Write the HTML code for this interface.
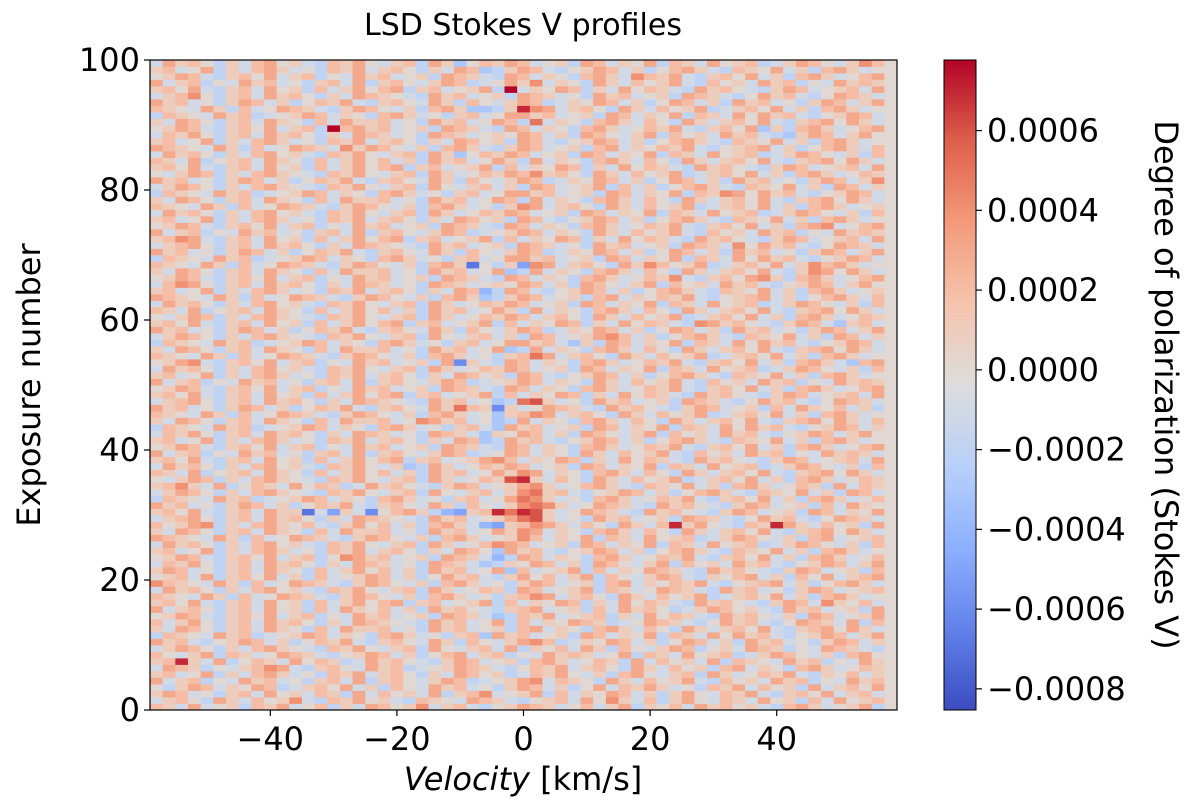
<!DOCTYPE html>
<html><head><meta charset="utf-8">
<style>
html,body{margin:0;padding:0;background:#fff;}
svg{display:block;font-family:"DejaVu Sans","Liberation Sans",sans-serif;}
</style></head>
<body>
<svg id="chart" width="1200" height="802" viewBox="0 0 1200 802" xmlns="http://www.w3.org/2000/svg">
  <text x="523" y="35" font-size="30" text-anchor="middle">LSD Stokes V profiles</text>
  <g id="cells"></g>
  <rect x="150" y="60" width="747" height="650" fill="none" stroke="#000" stroke-width="1.2"/>
  <g id="xticks"></g>
  <g id="yticks"></g>
  <text x="523" y="790" font-size="32" text-anchor="middle"><tspan font-style="italic">Velocity</tspan> [km/s]</text>
  <text transform="translate(40,385) rotate(-90)" font-size="32" text-anchor="middle">Exposure number</text>
  <defs><linearGradient id="cbg" x1="0" y1="1" x2="0" y2="0"></linearGradient></defs>
  <rect x="944" y="60" width="32" height="650" fill="url(#cbg)" stroke="#000" stroke-width="1"/>
  <g id="cbticks"></g>
  <text transform="translate(1155,385) rotate(90)" font-size="32" text-anchor="middle">Degree of polarization (Stokes V)</text>
</svg>
<script>
const velocityCenters = [];
for (let v = -58; v <= 58; v += 2) velocityCenters.push(v);
const xTickValues = [-40, -20, 0, 20, 40];
const xTickLabels = ["\u221240", "\u221220", "0", "20", "40"];
const yTickValues = [0, 20, 40, 60, 80, 100];
const yTickLabels = ["0", "20", "40", "60", "80", "100"];
const cbTickValues = [0.0006, 0.0004, 0.0002, 0, -0.0002, -0.0004, -0.0006, -0.0008];
const cbTickLabels = ["0.0006", "0.0004", "0.0002", "0.0000", "\u22120.0002", "\u22120.0004", "\u22120.0006", "\u22120.0008"];
const vMin = -0.000853, vMax = 0.000777;
// rows of levels: letter a..q -> (index-8)*0.0001 ; row 0 = exposure 0 (bottom)
const rowLevels = [
"kjhlhijgkjlhikgjhlkijmhjkhgijlkjhikhjlgjikhljkijhgkljhijlg",
"hjkigljhkijmhgkjlijhgkjihlkjhgijkhlimjhkgjlihkjhlijgkhlijk",
"jlkhigjkhlijhkjglhkijhlgjkmhijlgkhjilkhjgjlihkjlhgjkilhjkh",
"igjlkhjilkghjkilhjgkihljkhigjlkhjgilhkjljhigkjlhkijglhjkil",
"lhjkgihljkhigjkhlgjkihjlkghijlmhkjigljhkijlhgkijhljkgihljk",
"jkhilgjhkljhigkjlhjkigjhlkijghkjlihjgklihjkgljhikjlhgjikhj",
"hlkjgihjkmlhgjkihljkghijlkjhgikjlhjkigljhkijgklhjigkljhikj",
"jkpjhlgikjhlikjghljkihgjlkhijgkljhikjglhkijhlgkjihljkgihlj",
"kihjlgkjhilkjhgijlkhjgiklhjkgihljkjhilgkjhlijkghjlkihjgkli",
"hjlkigjhkljihgkjlihjkglihjkhlgjikhljgkihjlkgijhlkjgihlkjhg",
"ljkhgijlkhjgikjlhgjkihljgkihjlmkghjilkhjgilkhjgljkhigjlkhj",
"gkjihljkghijlkhjigkljhigjkfljkhijglkhjilgkjhliljkhgijlkhjl",
"jhlkigjkhljigkhljjkhigljkhijgklhjigkljhkigljhjkilhgjkliljh",
"khjligjkhljkigjhlkjihgljkhilgkhjilkjghilkjhgiljkhgilkjhlgk",
"ijlkhgjkilhjkgihljkhijglkjhfgkjlhijkgjhlikjhgljkihjglkhijl",
"lhjkigjkhlijgkhljikhjgljkihgjklhijgkhljkighjlkijhgljkhijgl",
"jkilhgjkhlijgkhjliklgjkhijlgkhjilkgjhlikjhgljkihgjlkhmjikh",
"kjihljgkhilkjhgjlkihjgkljhigjkmlhjkigljhkijlghjkilhjgkljhi",
"hljkigjhklijhgkjlihjkgljhikjglkhijlgkjhilkjhgljkhigjlkhijk",
"mkjihljgkhilkjhgjlkihjgkljhigjlkhijgklhjikjlhgijklhjgikljh",
"ijkhlgjkilhjgkhijlkhjgiljkhgjlikhjlgkihjlkhgjiklhjgkilhjkl",
"jlkhigjkhljigkhjlikhjgljkhilfkhijlgkhjilkjhgljkihgjlkhijgk",
"hkjligjkhljkigjhlkjhiglkjhfgjilkhjglkihjlgkijhljkhgijlkhjl",
"ijlkhgjkilhjkgimljkhijglkjheglkhjigkljhikjlhgjkilhjgkljhik",
"jkhilgjhkljhigkjlhjkigjhlkifljkhgijlkhjgikljhgkjilhjgkljhi",
"hljkigjhklijhgkjlihjkgljhikmlkhijglkhjilgkjhlijkghjlkihjgk",
"lkjihljgkhilkjhgjlkihjgkljhijmkhjilgkjhlijkghjlkihjgklhijk",
"jhlkigjkhljigkhljjkhigljkhiljmlhjigkljhkigljhjkilhgjkliljh",
"kijlmgjhkljikhgjlikhjgkljhedjkmljhkigljhkpjlihgkjpljhkijgl",
"hjkligjkhljkigjhlkjihgljkhijlnojhigljkhijglkjhgiljkhgilkjh",
"jkilhgjkhljjbhdjhcikljgedjkpnpojhilkjhgljkihgjlkhijglkhjil",
"ljkhigjlkhjgikjlhgjkihljgkihjmnmjhilkjhgljkihgjlkhijgkhlji",
"gkjihljkghijlkhjigkljhigjkhilnmjhigkljhikjlhgjkilhjgkljhik",
"hjlkigjhkljihgkjlihjkglihjkhjmnjkhgijlkhjgikljhgkjilhjglkh",
"jkmjhlgikjhlikjghljkihgjlkhijlmjhikljhgkjilhjgkljhikjglhkj",
"ihjlkgjhkljihgkjlihjkgljhikjopjhkigljhkijlghjkilhjgkljhikj",
"kjhlgijkhljigkhjlikhjgljkhiljmlhjigkljhkigljhjkilhgjkliljh",
"hljkigjhklijhgkjlihjfgljhikjlkhijglkhjilgkjhlijkghjlkihjgk",
"jkilhgjkhlijgkhjliklgjkhijlmkhjilkgjhlikjhgljkihgjlkhijkhl",
"lhjkgihljkhigjkhlgjkihjlkghilkhjigljhkijlhgkijhljkgihljkjh",
"ijlkhgjkilhjkgihljkhijglkjhglkhjigkljhikjlhgjkilhjgkljhikl",
"jkhilgjhkljhigkjlhjkigjhlkfgljkhgijlkhjgikljhgkjilhjgkljhi",
"hkjligjkhljkigjhlkjhiglkjhfjilkhjglkihjlgkijhljkhgijlkhjli",
"gkjihljkghijlkhjigkljhigjkhfljkhijglkhjilgkjhliljkhgijlkhj",
"jhlkigjkhljigkhljjkhimljkhifglhjigkljhkigljhjkilhgjkliljhk",
"kjihljgkhilkjhgjlkihjgkljhifjkmlhjkigljhkijlghjkilhjgkljhi",
"ljkhigjlkhjgikjlhgjkihljnkjcjhilkjhgljkihgjlkhijgkhljikhjg",
"hjkligjkhljkigjhlkjihgljkhifgnojhigljkhijglkjhgiljkhgilkjh",
"jkilhgjkhlijgkhjliklgjkhijlgkhjilkgjhlikjhgljkihgjlkhijkhl",
"ijlkhgjkilhjkgihljkhijglkjhglkhjigkljhikjlhgjkilhjgkljhikl",
"lhjkgihljkhigjkhlgjkihjlkghijlkhjigljhkijlhgkijhljkgihljkj",
"jkhilgjhkljhigkjlhjkigjhlkijglkhgijlkhjgikljhgkjilhjgkljhi",
"hljkigjhklijhgkjlihjkgljhikjlkhijglkhjilgkjhlijkghjlkihjgk",
"ijlmhgjkilhjkgihljkhijglcjhglkhjigkljhikjlhgjkilhjgkljhfkl",
"kjihljgkhilkjhgjlkihjgkljhigjknlhjkigljhkijlghjkilhjgkljhi",
"jhlkigjkhljigkhljjkhigljkhilfglhjigkljhkigljhjkilhgjkliljh",
"gkjihljkghijlkhjigkljhigjkhilljkhfjglkhjilgkjhliljkhgijlkh",
"hjlkigjhkljihgkjlihjkglihjkhjglkhijlmkhjgikljhgkjilhjglkhj",
"ljkhigjlkhjgikjlhgjkihljgkihjlkghjilkhjgilkhjgljkhigjlkhjl",
"jkilhgjkhlijgkhjliklgjkhijlgkhjilkgjhlikjhgmljkihgjlkhfjkh",
"ihjlkgjhkljihgkjlihjkgljhikjlkhjkigljhkijlghjkilhjgkljhikj",
"kjhlgijkhljigkhjlikhjgljkhiljglhjigkljhkigljhjkilhgjkliljh",
"hljkigjhklijhgkjlihjkgljhikjlkhijglkhjilgkjhlijkghjlkihjgk",
"lkjihljgkhilkjhgjlkihjgkljfgjlkhijgklhjikjlhgijklhjgikljhk",
"jkhilgjhkljhigkjlhjkigjhlkeglkhgijlkhjgikljhgkjilhjgkljhij",
"hkmligjkhljkigjhlkjhiglkjhijilkhjglkihjlgkijhljkhgijlkhjli",
"ijlkhgjkilhjkgihljkhijglkjhglkhjigkljhikjmhgjkilmjgkljhikl",
"jhlkigjkhljigkhljjkhigljkhilfglhjigkljhkigljhjkilhgjmliljh",
"kjihljgkhilkjhgjlkihjgkljbigjdmlhjkigljmkijlghjkilhjmkljhi",
"gkjihljkghijlkhjigkljhigjkhilljkhijglkhjilgkjhliljkhgijlkh",
"ljkhigjlkhjgikjlhgjkihljgkihjlkghjilkhjgilkhjgljkhigjlkhjl",
"hjkligjkhljkigjhlkjihgljkhijglkjhigljkhijglkjhmiljkhgilkjh",
"jkmlhgjkhlijgkhjliklgjkhijlgkhjilkgjhlikjhgljkihgjlkhijkhl",
"lhjkgihljkhigjkhlgjkihjlkghijlkhjigljhkijlhgkijhljkgihljkj",
"ijlkhgjkilhjkgihljkhijglkjhglkhjigkljhikjlhgjkilhjgklmhikl",
"jkhilgjhkljhigkjlhjkigjhlkijglkhgijlkhjgikljhgkjilhjgkljhi",
"hljkigjhklijhgkjlihjkgljhikjlkhijglkhjilgkjhlijkghjlkihjgk",
"kjihljgkhilkjhgjlkihjgkljhigjmlhjkigljhkijlghjkilhjgkljhij",
"jhlkigjkhljigkhljjkhigljkhilkglhjigkljhkigljhjkilhgjkliljh",
"gkjihljkghijlkhjigkljhigjkhilljkhijglkhjilgkjmliljkhgijlkh",
"hjlkigjhkljihgkjlihjkglihjkhjglkhijlgkhjgikljhgkjilhjglkhj",
"ljkhigjlkhjgikjlhgjkihljgkihjlkghjilkhjgilkhjgljkhigjlkhjm",
"ihjlkgjhkljihgkjlihjkgljhikjlkmjkigljhkijlghjkilhjgkljhikj",
"jkilhgjkhlijgkhjliklgjkhijlgkhjilkgjhlikjhgljkihgjlkhijkhl",
"kjhlgijkhljigkhjlikhjgljkhiljglhjigkljhkigljhjkilhgjkliljh",
"hljkigjhklijhgkjlihjkgljfikjlkhijglkhjilgkjhlijkghjlkihjgk",
"lkjihljgkhilkjhmjlkihjgkljhgjlkhijgklhjikjlhgijklhjgikljhk",
"jkhilgjhkljhigkjlhjkigjhlkijglkhgijlkhjgikljhgkjilhjgkljhi",
"hkjligjkhljkigjhlkjhiglkjhijilkhjglkihjlgkijhljkhgfjlkhjli",
"ijlkhgjkilhjkgqkljkhijglkjhglkhjigkljhikjlhgjkilfjgkljhikl",
"jhlkigjkhljigkhljjkhigljkhilkgnhjigkljhkigljhjkilhgjkliljh",
"gkjihljkghijlkhjigkljhigjkhilljkhijglkhjilgkjhliljkhgijlkh",
"kjihljgkhilkjhgjlkihjgkljffgjpmlhjkigljhkijlghjkilhjgkljhi",
"ljkhigjlkhjgikjlhgjkihljgkihjlkghjilkhjgilkhjgljkhigjlkhjl",
"hjkmigjkhljkigjhlkjihgljkhijglkjhigljkhijglkjhgiljkhgilkjh",
"jkilhgjkhlijgkhjliklgjkhijlgqhjilkgjhlikjhgljkihgjlkhijkhl",
"lhjkgihljkhigjkhlgjkihjlkghiljmhjigljhkijlhgkijhljkgihljkj",
"ijlkhgjkilhjkgihljkhijglkjhglkhjigkljhmkjlhgjkilhjgkljhikl",
"jkhilgjhkljhigkjlhjkigjhlkfgjlkhgijlkhjgikljhgkjilhjgkljhi",
"hljkigjhklijhgkjlihjkgljfikjlkhijglkhjilgkjhlijkghjlkihjmk"
];
const NS = "http://www.w3.org/2000/svg";
const X0 = 150, X1 = 897, Y0 = 60, Y1 = 710;
const xScale = v => X0 + (v + 59) / 118 * (X1 - X0);
const yScale = e => Y1 - e / 100 * (Y1 - Y0);
const cbScale = val => Y1 - (val - vMin) / (vMax - vMin) * (Y1 - Y0);
const cw = [[59,76,192],[98,130,234],[141,176,254],[184,208,249],[221,221,221],[245,196,173],[244,154,123],[222,96,77],[180,4,38]];
function cmap(t){
  t = Math.max(0, Math.min(1, t)) * 8;
  const i = Math.min(7, Math.floor(t)), f = t - i;
  const a = cw[i], b = cw[i+1];
  return "rgb(" + a.map((c,k)=>Math.round(c + (b[k]-c)*f)).join(",") + ")";
}
function levelValue(ch){ return (ch.charCodeAt(0) - 97 - 8) * 0.0001; }
const cells = document.getElementById("cells");
rowLevels.forEach((row, r) => {
  velocityCenters.forEach((v, c) => {
    const ch = row[c] || "i";
    const val = levelValue(ch);
    const rect = document.createElementNS(NS, "rect");
    
    
    const xa = xScale(v - 1), xb = xScale(v + 1), ya = yScale(r + 1), yb = yScale(r);
    rect.setAttribute("x", xa); rect.setAttribute("y", ya);
    rect.setAttribute("width", xb - xa + 0.4); rect.setAttribute("height", yb - ya + 0.4);
    rect.setAttribute("fill", cmap((val - vMin) / (vMax - vMin)));
    cells.appendChild(rect);
  });
});
function addText(g, x, y, s, anchor, size){
  const t = document.createElementNS(NS, "text");
  
  
  t.setAttribute("x", x); t.setAttribute("y", y);
  t.setAttribute("text-anchor", anchor); t.setAttribute("font-size", size);
  t.textContent = s; g.appendChild(t);
}
function addLine(g, x1, y1, x2, y2){
  const l = document.createElementNS(NS, "line");
  
  
  l.setAttribute("x1", x1); l.setAttribute("y1", y1); l.setAttribute("x2", x2); l.setAttribute("y2", y2);
  l.setAttribute("stroke", "#000"); l.setAttribute("stroke-width", "1.2"); g.appendChild(l);
}
const xg = document.getElementById("xticks");
xTickValues.forEach((v, i) => { const x = xScale(v); addLine(xg, x, Y1, x, Y1 + 6); addText(xg, x, 750, xTickLabels[i], "middle", 32); });
const yg = document.getElementById("yticks");
yTickValues.forEach((v, i) => { const y = yScale(v); addLine(yg, X0 - 6, y, X0, y); addText(yg, X0 - 10, y + 11, yTickLabels[i], "end", 32); });
const grad = document.getElementById("cbg");
for (let k = 0; k <= 8; k++){
  const s = document.createElementNS(NS, "stop");
  s.setAttribute("offset", k / 8); s.setAttribute("stop-color", "rgb(" + cw[k].join(",") + ")");
  grad.appendChild(s);
}
const cg = document.getElementById("cbticks");
cbTickValues.forEach((v, i) => { const y = cbScale(v); addLine(cg, 976, y, 982, y); addText(cg, 987, y + 11, cbTickLabels[i], "start", 32); });
</script>
</body></html>
